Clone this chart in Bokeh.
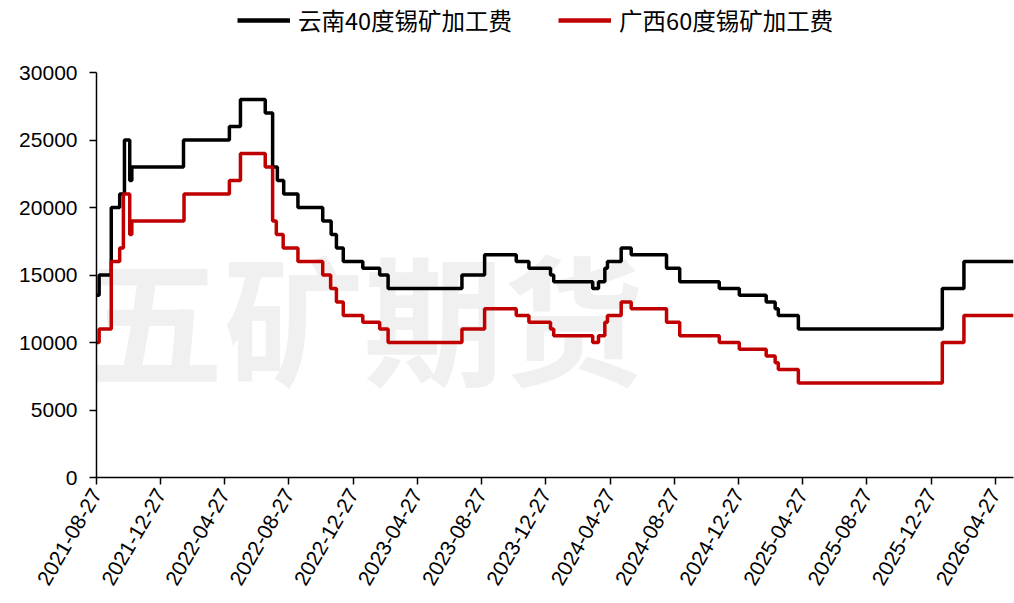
import math
import pandas as pd
from bokeh.plotting import figure
from bokeh.layouts import column
from bokeh.models import (Range1d, FixedTicker, DatetimeTickFormatter, Legend,
                          LegendItem, Label, ColumnDataSource)
from bokeh.embed import file_html
from bokeh.resources import INLINE

# ---------------- data ----------------
yunnan_dates = ["2021-08-27", "2021-09-01", "2021-09-24", "2021-10-10", "2021-10-19",
                "2021-10-29", "2021-11-02", "2022-02-08", "2022-05-06", "2022-05-27",
                "2022-07-13", "2022-07-27", "2022-08-05", "2022-08-17", "2022-09-13",
                "2022-10-30", "2022-11-15", "2022-11-25", "2022-12-08", "2023-01-14",
                "2023-02-15", "2023-03-03", "2023-07-21", "2023-09-02", "2023-11-01",
                "2023-11-25", "2024-01-05", "2024-01-11", "2024-03-25", "2024-04-05",
                "2024-04-17", "2024-04-22", "2024-05-18", "2024-06-06", "2024-08-12",
                "2024-09-06", "2024-11-20", "2024-12-28", "2025-02-17", "2025-03-06",
                "2025-03-12", "2025-04-19", "2026-01-17", "2026-02-27", "2026-06-01"]
yunnan_values = [13500, 15000, 20000, 21000, 25000,
                 22000, 23000, 25000, 26000, 28000,
                 27000, 23000, 22000, 21000, 20000,
                 19000, 18000, 17000, 16000, 15500,
                 15000, 14000, 15000, 16500, 16000,
                 15500, 15000, 14500, 14000, 14500,
                 15500, 16000, 17000, 16500, 15500,
                 14500, 14000, 13500, 13000, 12500,
                 12000, 11000, 14000, 16000, 16000]

guangxi_dates = ["2021-08-27", "2021-09-01", "2021-09-24", "2021-10-10", "2021-10-17",
                 "2021-10-29", "2021-11-02", "2022-02-09", "2022-05-06", "2022-05-27",
                 "2022-07-13", "2022-07-27", "2022-08-03", "2022-08-16", "2022-09-13",
                 "2022-10-30", "2022-11-14", "2022-11-25", "2022-12-08", "2023-01-14",
                 "2023-02-15", "2023-03-03", "2023-07-21", "2023-09-02", "2023-11-01",
                 "2023-11-25", "2024-01-05", "2024-01-11", "2024-03-25", "2024-04-05",
                 "2024-04-17", "2024-04-22", "2024-05-18", "2024-06-06", "2024-08-12",
                 "2024-09-06", "2024-11-20", "2024-12-28", "2025-02-17", "2025-03-06",
                 "2025-03-12", "2025-04-19", "2026-01-17", "2026-02-27", "2026-06-01"]
guangxi_values = [10000, 11000, 16000, 17000, 21000,
                  18000, 19000, 21000, 22000, 24000,
                  23000, 19000, 18000, 17000, 16000,
                  15000, 14000, 13000, 12000, 11500,
                  11000, 10000, 11000, 12500, 12000,
                  11500, 11000, 10500, 10000, 10500,
                  11500, 12000, 13000, 12500, 11500,
                  10500, 10000, 9500, 9000, 8500,
                  8000, 7000, 10000, 12000, 12000]

series_names = ["云南40度锡矿加工费", "广西60度锡矿加工费"]
series_colors = ["#000000", "#C00000"]
tick_labels = ["2021-08-27", "2021-12-27", "2022-04-27", "2022-08-27", "2022-12-27",
               "2023-04-27", "2023-08-27", "2023-12-27", "2024-04-27", "2024-08-27",
               "2024-12-27", "2025-04-27", "2025-08-27", "2025-12-27", "2026-04-27"]
y_ticks = [0, 5000, 10000, 15000, 20000, 25000, 30000]
watermark = "五矿期货"

src_y = ColumnDataSource(dict(x=pd.to_datetime(yunnan_dates), y=yunnan_values))
src_g = ColumnDataSource(dict(x=pd.to_datetime(guangxi_dates), y=guangxi_values))

# ---------------- legend strip ----------------
lg = figure(width=1014, height=60, output_backend="svg", toolbar_location=None,
            min_border=0, x_axis_location=None, y_axis_location=None,
            x_range=(0, 1), y_range=(0, 1))
lg.grid.visible = False
lg.outline_line_color = None
# same series drawn out of this strip's view; used only for the legend swatches
lr1 = lg.step("x", "y", source=src_y, mode="after", line_color=series_colors[0], line_width=4.5)
lr2 = lg.step("x", "y", source=src_g, mode="after", line_color=series_colors[1], line_width=4.5)
legend = Legend(items=[LegendItem(label=series_names[0], renderers=[lr1]),
                       LegendItem(label=series_names[1], renderers=[lr2])],
                orientation="horizontal", location=(141, 23),
                glyph_width=53, glyph_height=20, label_height=20,
                label_standoff=8, spacing=46, padding=0, margin=0,
                border_line_color=None, background_fill_alpha=0,
                label_text_font="Noto Sans CJK SC", label_text_font_size="23.5px",
                label_text_color="#000000")
lg.add_layout(legend, "center")

# ---------------- main figure ----------------
p = figure(width=1014, height=543, x_axis_type="datetime",
           output_backend="svg", toolbar_location=None,
           min_border_left=96, min_border_right=1,
           min_border_top=12, min_border_bottom=126)
p.x_range = Range1d(start=pd.Timestamp("2021-08-27"), end=pd.Timestamp("2026-06-01"))
p.y_range = Range1d(start=0, end=30000)
p.outline_line_color = None
p.xgrid.visible = False
p.ygrid.visible = False
p.background_fill_color = "white"

wm = Label(x=-13, y=164, x_units="screen", y_units="screen", text=watermark,
           text_font="Noto Sans CJK SC", text_font_style="bold",
           text_font_size="140px", text_color="#f0f0f0",
           text_baseline="middle", text_align="left", level="underlay")
p.add_layout(wm)

p.step("x", "y", source=src_y, mode="after", line_color=series_colors[0], line_width=3.5)
p.step("x", "y", source=src_g, mode="after", line_color=series_colors[1], line_width=3.5)

tick_ms = [pd.Timestamp(t).value // 10**6 for t in tick_labels]
p.xaxis.ticker = FixedTicker(ticks=tick_ms)
fmt = "%Y-%m-%d"
p.xaxis.formatter = DatetimeTickFormatter(milliseconds=fmt, seconds=fmt, minsec=fmt,
                                          minutes=fmt, hourmin=fmt, hours=fmt,
                                          days=fmt, months=fmt, years=fmt)
p.xaxis.major_label_orientation = math.pi / 3
p.yaxis.ticker = FixedTicker(ticks=y_ticks)

for ax in (p.xaxis, p.yaxis):
    ax.axis_line_color = "#000000"
    ax.axis_line_width = 1.5
    ax.major_tick_line_color = "#000000"
    ax.major_tick_line_width = 1.5
    ax.major_tick_out = 7
    ax.major_tick_in = 0
    ax.minor_tick_line_color = None
    ax.major_label_text_font = "Liberation Sans"
    ax.major_label_text_font_size = "21px"
    ax.major_label_text_color = "#000000"
p.yaxis.major_label_standoff = 12
p.xaxis.major_label_standoff = 6

layout = column(lg, p, spacing=0)
open("out.html", "w").write(file_html(layout, INLINE))
